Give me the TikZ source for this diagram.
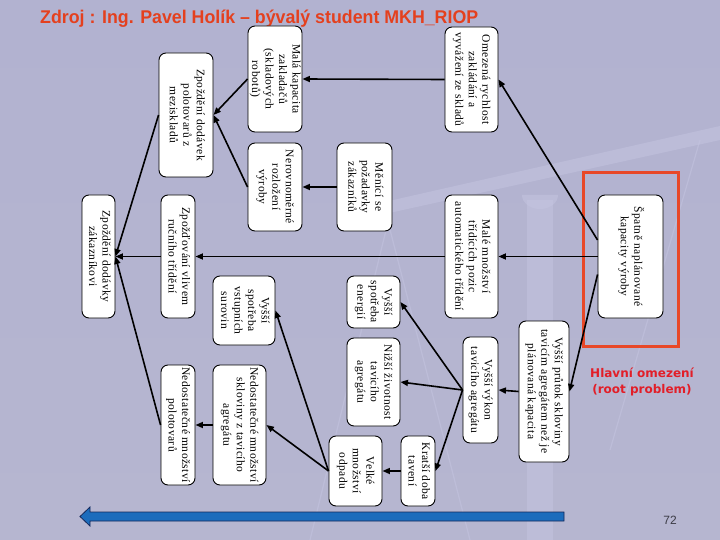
\documentclass[tikz,border=0pt]{standalone}
\usepackage{fontspec}
\usepackage{graphicx}
\setmainfont{Liberation Serif}
\newfontfamily\arialfont{Liberation Sans}
\newfontfamily\tahfont{DejaVu Sans}
\newfontfamily\boxfont[LetterSpace=4]{Liberation Serif}
\usetikzlibrary{arrows.meta,calc}
\definecolor{bgtop}{RGB}{178,178,208}
\definecolor{bgmid}{RGB}{222,222,230}
\definecolor{bgbot}{RGB}{182,182,208}
\definecolor{decor}{RGB}{196,196,224}
\definecolor{titlered}{RGB}{228,64,30}
\definecolor{hlred}{RGB}{226,30,40}
\definecolor{framered}{RGB}{232,72,40}
\definecolor{arrblue}{RGB}{28,108,188}
\definecolor{arrnavy}{RGB}{20,40,90}
\definecolor{pagegray}{RGB}{60,60,70}
\newcommand{\rotlines}[1]{\rotatebox{-90}{\begin{tabular}{@{}c@{}}#1\end{tabular}}}
\begin{document}
\begin{tikzpicture}[x=1pt,y=-1pt,
  box/.style={draw=black, line width=0.9pt, fill=white, rounded corners=7pt, inner sep=0pt,
    font=\boxfont\fontsize{11.5}{13.5}\selectfont},
  link/.style={line width=1.6pt, -{Triangle[length=7.5pt,width=6pt]}},
]
\useasboundingbox (0,0) rectangle (720,540);
\shade[top color=bgtop, middle color=bgmid, bottom color=bgbot] (0,0) rectangle (720,540);
% faint balance scale in the background
\begin{scope}[opacity=0.55]
\fill[decor] (380,203) -- (720,126) -- (720,140) -- (380,215) -- cycle;
\fill[decor] (527,200) rectangle (553,540);
\fill[decor] (522,195) arc[start angle=180, end angle=0, x radius=18, y radius=14] -- cycle;
\draw[decor, line width=1.2pt] (388,222) -- (310,540);
\draw[decor, line width=1.2pt] (388,222) -- (470,540);
\draw[decor, line width=1.2pt] (700,140) -- (610,450);
\end{scope}

% title
\node[anchor=base west, inner sep=0pt, text=titlered] (title) at (40,24)
  {\resizebox{438pt}{13.5pt}{\arialfont\bfseries\fontsize{18}{18}\selectfont Zdroj : Ing. Pavel Holík – bývalý student MKH\_RIOP}};

% root frame
\node[draw=framered, line width=3pt, minimum width=95pt, minimum height=173pt, inner sep=0pt] (frame) at (630.5,259.5) {};

% boxes
\node[box, minimum width=65pt, minimum height=123pt] (root) at (630.5,256.5) {\rotlines{Špatně naplánované\\kapacity výroby}};
\node[box, minimum width=53pt, minimum height=105pt] (om) at (471.5,79.5) {\rotlines{Omezená rychlost\\zakládání a\\vyvážení ze skladů}};
\node[box, minimum width=53pt, minimum height=123pt] (mm) at (471.5,256.5) {\rotlines{Malé množství\\třídících pozic\\automatického třídění}};
\node[box, minimum width=50pt, minimum height=141pt] (vp) at (544,391.5) {\rotlines{Vyšší průtok skloviny\\tavicím agregátem než je\\plánovaná kapacita}};
\node[box, minimum width=35pt, minimum height=106pt] (vv) at (480.5,390) {\rotlines{Vyšší výkon\\tavicího agregátu}};
\node[box, minimum width=34pt, minimum height=70pt] (kd) at (418,471) {\rotlines{Kratší doba\\tavení}};
\node[box, minimum width=55pt, minimum height=88pt] (ms) at (364.5,187) {\rotlines{Měnící se\\požadavky\\zákazníků}};
\node[box, minimum width=53pt, minimum height=52pt] (se) at (373.5,302) {\rotlines{Vyšší\\spotřeba\\energií}};
\node[box, minimum width=53pt, minimum height=88pt] (nz) at (373.5,382) {\rotlines{Nižší životnost\\tavicího\\agregátu}};
\node[box, minimum width=53pt, minimum height=70pt] (vo) at (355.5,471) {\rotlines{Velké\\množství\\odpadu}};
\node[box, minimum width=54pt, minimum height=106pt] (mk) at (275,79) {\rotlines{Malá kapacita\\zakladačů\\(skladových\\robotů)}};
\node[box, minimum width=54pt, minimum height=88pt] (nr) at (275,187) {\rotlines{Nerovnoměrné\\rozložení\\výroby}};
\node[box, minimum width=62pt, minimum height=69pt] (sv) at (244,310.5) {\rotlines{Vyšší\\spotřeba\\vstupních\\surovin}};
\node[box, minimum width=53pt, minimum height=120pt] (nsk) at (239.5,425) {\rotlines{Nedostatečné množství\\skloviny z tavicího\\agregátu}};
\node[box, minimum width=54pt, minimum height=124pt] (zm) at (186,115) {\rotlines{Zpoždění dodávek\\polotovarů z\\meziskladů}};
\node[box, minimum width=34pt, minimum height=123pt] (zr) at (178,256.5) {\rotlines{Zpožďování vlivem\\ručního třídění}};
\node[box, minimum width=34pt, minimum height=120pt] (np) at (178,425) {\rotlines{Nedostatečné množství\\polotovarů}};
\node[box, minimum width=33pt, minimum height=123pt] (zd) at (98.5,256.5) {\rotlines{Zpoždění dodávky\\zákazníkovi}};

% connectors
\draw[link] ($(root.west)+(0,-16.5)$) -- (om.east);
\draw[link] (root.west) -- (mm.east);
\draw[link] ($(root.west)+(0,18)$) -- (vp.east);
\draw[link] (vp.west) -- (vv.east);
\draw[link] (vv.west) -- (kd.east);
\draw[link] (vv.west) -- (nz.east);
\draw[link] (vv.west) -- (se.east);
\draw[link] (kd.west) -- (vo.east);
\draw[link] (vo.west) -- (nsk.east);
\draw[link] (vo.west) -- (sv.east);
\draw[link] (nsk.west) -- (np.east);
\draw[link] (np.west) -- (zd.east);
\draw[link] (zr.west) -- (zd.east);
\draw[link] (zm.west) -- (zd.east);
\draw[link] (mm.west) -- (zr.east);
\draw[link] (om.west) -- (mk.east);
\draw[link] (ms.west) -- (nr.east);
\draw[link] (mk.west) -- (zm.east);
\draw[link] (nr.west) -- (zm.east);

% root label
\node[font=\tahfont\bfseries\fontsize{12}{16}\selectfont, text=hlred, align=center] (hl) at (642,382) {Hlavní omezení\\(root problem)};

% bottom arrow and page number
\draw[fill=arrblue, draw=arrnavy, line width=0.8pt] (80,516.5) -- (90,507) -- (90,512) -- (564,512) -- (564,521) -- (90,521) -- (90,526) -- cycle;
\node[font=\arialfont\fontsize{12}{12}\selectfont, text=pagegray] (pg) at (670,520) {72};
\end{tikzpicture}
\end{document}
